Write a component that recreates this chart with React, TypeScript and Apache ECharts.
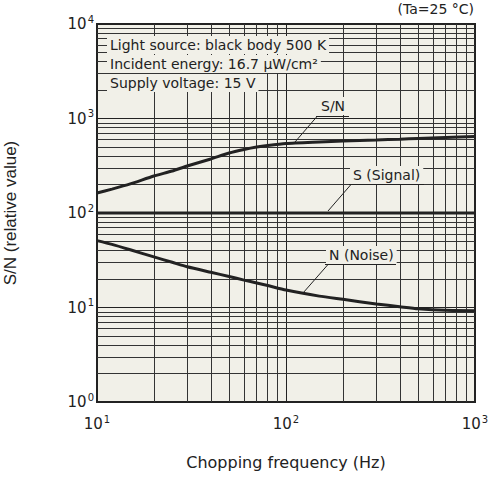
import React, { useEffect, useRef } from "react";
import * as echarts from "echarts";

const frequency = [10, 12, 15, 20, 25, 30, 40, 50, 60, 70, 80, 100, 150, 200, 300, 400, 500, 700, 1000];
const snValues = [163, 179, 203, 246, 278, 314, 373, 431, 470, 499, 518, 543, 564, 578, 592, 604, 614, 629, 645];
const signalValues = [100, 100, 100, 100, 100, 100, 100, 100, 100, 100, 100, 100, 100, 100, 100, 100, 100, 100, 100];
const noiseValues = [51, 46.5, 40.8, 34.3, 30.1, 27, 23.6, 21.3, 19.5, 18.2, 17.1, 15.3, 13.2, 12.2, 10.9, 10.2, 9.7, 9.33, 9.25];

const xDecades = [10, 100];
const yDecades = [1, 10, 100, 1000];
const mantissas = [2, 3, 4, 5, 6, 7, 8, 9];

const conditionLines = [
  "Light source: black body 500 K",
  "Incident energy: 16.7 μW/cm²",
  "Supply voltage: 15 V",
];

const FONT = "DejaVu Sans";
const BG = "#f1f0e8";
const INK = "#222";

export default function App() {
  const ref = useRef<HTMLDivElement>(null);
  useEffect(() => {
    if (!ref.current) return;
    const chart = echarts.init(ref.current, null, { renderer: "svg" });
    const minorX: number[] = [];
    xDecades.forEach((d) => mantissas.forEach((m) => minorX.push(d * m)));
    const minorY: number[] = [];
    yDecades.forEach((d) => mantissas.forEach((m) => minorY.push(d * m)));

    const gridLeft = 97, gridTop = 24, gridW = 378, gridH = 378;

    const tickFmt = (v: number) => `{b|10}{s|${Math.round(Math.log10(v))}}`;
    const tickRich = {
      b: { fontSize: 15, fontFamily: FONT, color: INK },
      s: { fontSize: 10, fontFamily: FONT, color: INK, verticalAlign: "top", padding: [0, 0, 10, 1] },
    };

    const lineSeries = (name: string, vals: number[]) => ({
      name,
      type: "line",
      data: frequency.map((f, i) => [f, vals[i]]),
      smooth: 0.2,
      showSymbol: false,
      symbol: "none",
      lineStyle: { color: INK, width: 3 },
      z: 5,
    });

    const textBox = (text: string, x: number, y: number) => ({
      type: "text",
      x,
      y,
      z: 100,
      style: {
        text,
        font: `14px "${FONT}"`,
        fill: INK,
        textVerticalAlign: "middle",
        backgroundColor: BG,
        padding: [2, 3, 2, 3],
      },
    });
    const seg = (x1: number, y1: number, x2: number, y2: number) => ({
      type: "line",
      z: 101,
      shape: { x1, y1, x2, y2 },
      style: { stroke: INK, lineWidth: 1 },
    });

    chart.setOption({
      animation: false,
      grid: {
        left: gridLeft,
        top: gridTop,
        width: gridW,
        height: gridH,
        outerBoundsMode: "none",
        containLabel: false,
        show: true,
        backgroundColor: BG,
        borderColor: INK,
        borderWidth: 2,
        z: 0,
      },
      xAxis: {
        type: "log",
        logBase: 10,
        min: 10,
        max: 1000,
        name: "Chopping frequency (Hz)",
        nameLocation: "middle",
        nameGap: 52,
        nameTextStyle: { fontFamily: FONT, fontSize: 16, color: INK },
        axisLine: { show: false },
        axisTick: { show: false },
        splitLine: { show: true, lineStyle: { color: INK, width: 1 } },
        axisLabel: { formatter: tickFmt, rich: tickRich, margin: 12 },
      },
      yAxis: {
        type: "log",
        logBase: 10,
        min: 1,
        max: 10000,
        name: "S/N (relative value)",
        nameLocation: "middle",
        nameGap: 78,
        nameTextStyle: { fontFamily: "Liberation Sans", fontSize: 17, color: INK },
        axisLine: { show: false },
        axisTick: { show: false },
        splitLine: { show: true, lineStyle: { color: INK, width: 1 } },
        axisLabel: { formatter: tickFmt, rich: tickRich, margin: 3 },
      },
      series: [
        {
          name: "grid",
          type: "line",
          data: [],
          z: 1,
          silent: true,
          markLine: {
            silent: true,
            symbol: ["none", "none"],
            label: { show: false },
            lineStyle: { type: "solid", color: "#333", width: 1 },
            data: [
              ...minorX.map((v) => ({ xAxis: v })),
              ...minorY.map((v) => ({ yAxis: v })),
            ],
          },
        },
        lineSeries("S/N", snValues),
        lineSeries("S (Signal)", signalValues),
        lineSeries("N (Noise)", noiseValues),
      ],
      graphic: [
        {
          type: "text",
          right: 15,
          top: 2,
          style: { text: "(Ta=25 °C)", font: `14px "${FONT}"`, fill: INK },
        },
        textBox(conditionLines[0], 107, 45),
        textBox(conditionLines[1], 107, 64),
        textBox(conditionLines[2], 107, 83),
        textBox("S/N", 318, 106),
        seg(316, 116.5, 349, 116.5),
        seg(317, 116.5, 295, 142),
        textBox("S (Signal)", 350, 175),
        seg(349, 184.5, 424, 184.5),
        seg(351, 184.5, 328, 211),
        textBox("N (Noise)", 326, 255),
        seg(325, 264.5, 396, 264.5),
        seg(328, 264.5, 303, 293),
      ],
    });
    return () => chart.dispose();
  }, []);
  return (
    <div
      ref={ref}
      style={{ position: "fixed", left: 0, top: 0, width: 489, height: 479, background: "#fff" }}
    />
  );
}
